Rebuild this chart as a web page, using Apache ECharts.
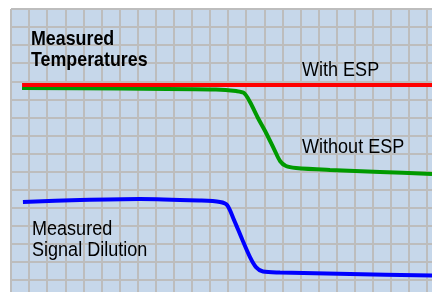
<!DOCTYPE html>
<html>
<head>
<meta charset="utf-8">
<script src="https://cdn.jsdelivr.net/npm/echarts@6/dist/echarts.min.js"></script>
<style>
  html, body { margin: 0; padding: 0; background: #fff; }
  #chart { width: 432px; height: 292px; }
</style>
</head>
<body>
<div id="chart"></div>
<script>
// positions in grid squares: x from the left edge, y from the top edge
var withEsp = [[0.61, 4.21], [23.27, 4.21]]
var withoutEsp = [
  [0.61, 4.37], [6.03, 4.40], [11.33, 4.45], [12.44, 4.54], [12.88, 4.65],
  [13.21, 5.15], [13.65, 6.03], [14.10, 6.86], [14.54, 7.75], [14.87, 8.41],
  [15.20, 8.69], [15.75, 8.80], [17.63, 8.91], [20.40, 9.02], [23.27, 9.13]
]
var dilution = [
  [0.66, 10.68], [3.81, 10.57], [7.13, 10.51], [10.45, 10.60], [11.55, 10.68],
  [11.94, 10.85], [12.33, 11.68], [12.77, 12.73], [13.21, 13.73], [13.54, 14.28],
  [13.93, 14.53], [14.87, 14.58], [18.74, 14.66], [23.27, 14.75]
]
var labels = ['Measured\nTemperatures', 'With ESP', 'Without ESP', 'Measured\nSignal Dilution']

var chart = echarts.init(document.getElementById('chart'))

var gridLine = {
  show: true,
  showMinLine: true,
  showMaxLine: false,
  lineStyle: { color: '#bdbdbd', width: 2 }
}

function textEl (txt, x, y, bold) {
  return {
    type: 'text',
    x: x,
    y: y,
    scaleX: bold ? 0.87 : 0.88,
    z: 100,
    style: {
      text: txt,
      fill: '#000',
      fontFamily: 'Liberation Sans',
      fontWeight: bold ? 'bold' : 'normal',
      fontSize: 20.5,
      lineHeight: 21,
      verticalAlign: 'top'
    }
  }
}

var option = {
  animation: false,
  backgroundColor: '#fff',
  grid: {
    left: 11,
    top: 9,
    right: 0,
    bottom: 0,
    show: true,
    borderWidth: 0,
    backgroundColor: '#c6d7ea'
  },
  xAxis: {
    type: 'value',
    min: 0,
    max: 23.27,
    interval: 1,
    axisLine: { show: false },
    axisTick: { show: false },
    axisLabel: { show: false },
    splitLine: gridLine
  },
  yAxis: {
    type: 'value',
    inverse: true,
    min: 0,
    max: 15.66,
    interval: 1,
    axisLine: { show: false },
    axisTick: { show: false },
    axisLabel: { show: false },
    splitLine: gridLine
  },
  series: [
    {
      name: 'With ESP',
      type: 'line',
      data: withEsp,
      symbol: 'none',
      z: 4,
      lineStyle: { color: '#ff0000', width: 4 }
    },
    {
      name: 'Without ESP',
      type: 'line',
      data: withoutEsp,
      symbol: 'none',
      smooth: 0.3,
      z: 3,
      lineStyle: { color: '#009a00', width: 4 }
    },
    {
      name: 'Signal Dilution',
      type: 'line',
      data: dilution,
      symbol: 'none',
      smooth: 0.3,
      z: 3,
      lineStyle: { color: '#0000ff', width: 4 }
    }
  ],
  graphic: [
    textEl(labels[0], 31, 28.4, true),
    textEl(labels[1], 302, 59.4, false),
    textEl(labels[2], 302, 136.4, false),
    textEl(labels[3], 32, 218.4, false)
  ]
}

chart.setOption(option)
</script>
</body>
</html>
